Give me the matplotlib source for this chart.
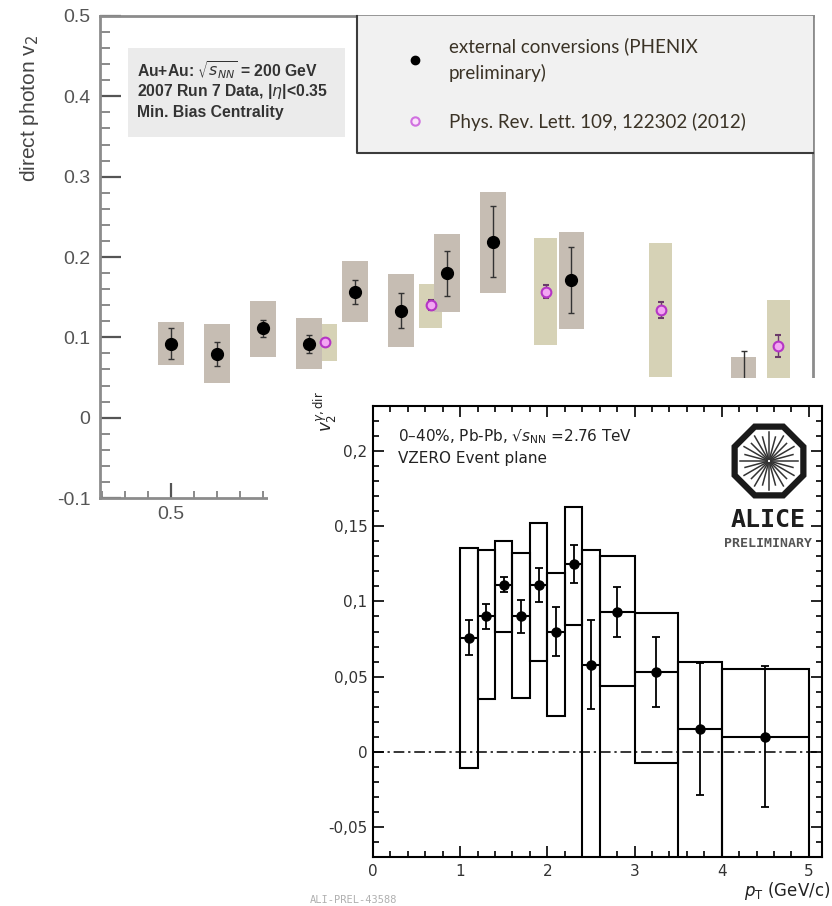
import numpy as np
import matplotlib
matplotlib.use("Agg")
import matplotlib.pyplot as plt
from matplotlib.patches import Rectangle, RegularPolygon
from matplotlib.lines import Line2D
from matplotlib.ticker import MultipleLocator, FuncFormatter

plt.rcParams['mathtext.fontset'] = 'dejavusans'

# ---------------- PHENIX (Au+Au 200 GeV) data ----------------
phx_pt = [0.5, 0.7, 0.9, 1.1, 1.3, 1.5, 1.7, 1.9, 2.24, 2.99]
phx_v2 = [0.092, 0.079, 0.111, 0.092, 0.156, 0.133, 0.180, 0.219, 0.171, 0.035]
phx_stat = [0.019, 0.015, 0.011, 0.011, 0.015, 0.022, 0.028, 0.044, 0.041, 0.048]
phx_sys_hi = [0.119, 0.116, 0.145, 0.124, 0.195, 0.179, 0.229, 0.281, 0.231, 0.075]
phx_sys_lo = [0.066, 0.043, 0.076, 0.061, 0.119, 0.088, 0.131, 0.155, 0.110, -0.005]

prl_pt = [1.17, 1.63, 2.13, 2.63, 3.14]
prl_v2 = [0.094, 0.140, 0.157, 0.134, 0.089]
prl_stat = [0.004, 0.006, 0.008, 0.010, 0.014]
prl_sys_hi = [0.116, 0.167, 0.224, 0.217, 0.147]
prl_sys_lo = [0.070, 0.112, 0.090, 0.051, 0.030]

# ---------------- ALICE (Pb-Pb 2.76 TeV) data ----------------
al_bin_lo = [1.0, 1.2, 1.4, 1.6, 1.8, 2.0, 2.2, 2.4, 2.6, 3.0, 3.5, 4.0]
al_bin_hi = [1.2, 1.4, 1.6, 1.8, 2.0, 2.2, 2.4, 2.6, 3.0, 3.5, 4.0, 5.0]
al_pt = [1.1, 1.3, 1.5, 1.7, 1.9, 2.1, 2.3, 2.5, 2.8, 3.25, 3.75, 4.5]
al_v2 = [0.076, 0.090, 0.111, 0.090, 0.111, 0.080, 0.125, 0.058, 0.093, 0.053, 0.015, 0.010]
al_stat = [0.0115, 0.0085, 0.005, 0.011, 0.0115, 0.0165, 0.0125, 0.0295, 0.0165, 0.0235, 0.044, 0.047]
al_sys_hi = [0.1355, 0.134, 0.140, 0.132, 0.152, 0.119, 0.163, 0.134, 0.130, 0.092, 0.060, 0.055]
al_sys_lo = [-0.0105, 0.035, 0.0795, 0.036, 0.0605, 0.024, 0.0845, -0.09, 0.0435, -0.0075, -0.09, -0.09]

W, H = 832, 906
fig = plt.figure(figsize=(W / 100, H / 100), dpi=100)


def rect(l, t, r, b):
    return [l / W, 1 - b / H, (r - l) / W, (b - t) / H]


def fx(px):
    return px / W


def fy(py):
    return 1 - py / H


# ================= PHENIX panel =================
ax1 = fig.add_axes(rect(100, 16, 813, 498))
ax1.set_xlim(0.191, 3.291)
ax1.set_ylim(-0.1, 0.5)
for s in ax1.spines.values():
    s.set_color('#8c8c8c')
    s.set_linewidth(2)
ax1.xaxis.set_major_locator(MultipleLocator(0.5))
ax1.xaxis.set_minor_locator(MultipleLocator(0.1))
ax1.yaxis.set_major_locator(MultipleLocator(0.1))
ax1.yaxis.set_minor_locator(MultipleLocator(0.02))
fmt_g = FuncFormatter(lambda v, p: '0' if abs(v) < 1e-9 else f'{v:g}')
# only the part of the PHENIX x axis left of the overlaid ALICE panel is visible
ax1.xaxis.set_major_formatter(FuncFormatter(lambda v, p: f'{v:g}' if v < 0.9 else ''))
ax1.yaxis.set_major_formatter(fmt_g)
ax1.tick_params(axis='y', which='major', direction='in', length=15, width=1.6,
                color='#555555', labelsize=14, labelcolor='#555555', pad=7)
ax1.tick_params(axis='y', which='minor', direction='in', length=7, width=1.2, color='#777777')
ax1.tick_params(axis='x', which='major', direction='in', length=11, width=1.6,
                color='#555555', labelsize=14, labelcolor='#555555', pad=6)
ax1.tick_params(axis='x', which='minor', direction='in', length=5, width=1.2, color='#777777')
for lab in ax1.get_xticklabels() + ax1.get_yticklabels():
    lab.set_family('Liberation Sans')

prl_h = np.array(prl_sys_hi) - np.array(prl_sys_lo)
phx_h = np.array(phx_sys_hi) - np.array(phx_sys_lo)
ax1.bar(prl_pt, prl_h, bottom=prl_sys_lo, width=0.10, color='#d6d2b6', zorder=2)
ax1.bar(phx_pt, phx_h, bottom=phx_sys_lo, width=0.11, color='#c6bdb3', zorder=3)
ax1.errorbar(phx_pt, phx_v2, yerr=phx_stat, fmt='o', ms=8.5, color='black',
             ecolor='#333333', elinewidth=1, capsize=2.5, zorder=5)
ax1.errorbar(prl_pt, prl_v2, yerr=prl_stat, fmt='o', ms=7, mfc='#f3a6f3', mec='#b535c5',
             mew=1.5, ecolor='#6a3a6a', elinewidth=1, capsize=2, zorder=6)

fig.text(fx(30), fy(108), r'direct photon v$_2$', rotation=90, ha='center', va='center',
         fontsize=15, color='#444444', family='Liberation Sans')


# info box (upper left)
def a1(px, py):
    return ((px - 100) / 713, (498 - py) / 482)


x0, y0 = a1(128, 137)
x1, y1 = a1(345, 48)
ax1.add_patch(Rectangle((x0, y0), x1 - x0, y1 - y0, transform=ax1.transAxes,
                        facecolor='#ebebeb', edgecolor='none', zorder=1))
info = [r'Au+Au: $\sqrt{s_{NN}}$ = 200 GeV', r'2007 Run 7 Data, |$\eta$|<0.35', 'Min. Bias Centrality']
for i, t in enumerate(info):
    ax1.text(*a1(137, 70 + 21.5 * i), t, transform=ax1.transAxes, fontsize=11.3,
             weight='bold', family='Liberation Sans', color='#333333', va='center', ha='left')

# legend box (upper right)
lx0, ly0 = a1(357, 153)
lx1, ly1 = a1(813, 16)
ax1.add_patch(Rectangle((lx0, ly0), lx1 - lx0, ly1 - ly0, transform=ax1.transAxes,
                        facecolor='#f1f1f1', edgecolor='none', zorder=7, clip_on=False))
ax1.plot([lx0, lx0, lx1], [ly1, ly0, ly0], transform=ax1.transAxes, color='#3c3c3c',
         lw=1.5, zorder=8, clip_on=False)
handles = [Line2D([], [], ls='none', marker='o', ms=6, color='black'),
           Line2D([], [], ls='none', marker='o', ms=6, mfc='#fbe3fb', mec='#d070e0', mew=1.5)]
labels = ['external conversions (PHENIX\npreliminary)', 'Phys. Rev. Lett. 109, 122302 (2012)']
leg = ax1.legend(handles, labels, loc='upper left', bbox_to_anchor=a1(406, 37),
                 bbox_transform=ax1.transAxes, frameon=False, handlelength=1.0,
                 handletextpad=1.3, labelspacing=1.65, borderaxespad=0, borderpad=0,
                 prop={'family': 'Lato', 'size': 13.5})
leg.set_zorder(9)
for t in leg.get_texts():
    t.set_color('#3b3326')
    t.set_linespacing(1.6)

# ================= white cover of ALICE picture =================
cov = fig.add_axes(rect(268, 378, 832, 906))
cov.set_facecolor('white')
cov.set_xticks([])
cov.set_yticks([])
for s in cov.spines.values():
    s.set_visible(False)

# ================= ALICE panel =================
ax2 = fig.add_axes(rect(373, 406, 822, 857))
ax2.set_facecolor('white')
ax2.set_xlim(0, 5.15)
ax2.set_ylim(-0.07, 0.23)
for s in ax2.spines.values():
    s.set_color('black')
    s.set_linewidth(1.5)
ax2.xaxis.set_major_locator(MultipleLocator(1))
ax2.xaxis.set_minor_locator(MultipleLocator(0.2))
ax2.yaxis.set_major_locator(MultipleLocator(0.05))
ax2.yaxis.set_minor_locator(MultipleLocator(0.01))


def comma_fmt(v, p):
    if abs(v) < 1e-9:
        return '0'
    s = f'{v:.2f}'.rstrip('0').rstrip('.')
    return s.replace('.', ',')


ax2.yaxis.set_major_formatter(FuncFormatter(comma_fmt))
ax2.xaxis.set_major_formatter(FuncFormatter(lambda v, p: f'{v:g}'))
ax2.tick_params(which='both', direction='in', top=True, right=True, width=1.2, color='black')
ax2.tick_params(which='major', length=8, labelsize=11, labelcolor='#333333', pad=4)
ax2.tick_params(which='minor', length=4.5)
ax2.tick_params(axis='x', which='major', pad=5)

ax2.axhline(0, color='black', lw=1.1, dashes=(7, 2.5, 1.5, 2.5), zorder=1)
al_w = np.array(al_bin_hi) - np.array(al_bin_lo)
al_h = np.array(al_sys_hi) - np.array(al_sys_lo)
ax2.bar(al_bin_lo, al_h, bottom=al_sys_lo, width=al_w, align='edge', fill=False,
        edgecolor='black', linewidth=1.5, zorder=2)
ax2.hlines(al_v2, al_bin_lo, al_bin_hi, color='black', lw=1.5, zorder=3)
ax2.errorbar(al_pt, al_v2, yerr=al_stat, fmt='o', ms=6.5, color='black',
             elinewidth=1.3, capsize=3, capthick=1.3, zorder=4)

fig.text(fx(398), fy(437), r'0–40%, Pb-Pb, √$s_{\mathrm{NN}}$ =2.76 TeV', fontsize=11,
         color='#222222', va='center', ha='left')
fig.text(fx(398), fy(458), 'VZERO Event plane', fontsize=11, color='#222222', va='center', ha='left')
fig.text(fx(326), fy(412), r'$v_2^{\gamma,\mathrm{dir}}$', rotation=90, fontsize=12,
         ha='center', va='center', color='#222222')
fig.text(fx(830), fy(891), r'$p_{\mathrm{T}}$ (GeV/c)', fontsize=12, ha='right', va='center',
         color='#222222')
fig.text(fx(310), fy(900), 'ALI-PREL-43588', fontsize=7.5, family='DejaVu Sans Mono',
         color='#b0b0b0', ha='left', va='center')

# ALICE logo
lg = fig.add_axes(rect(729, 421, 809, 501))
lg.set_xlim(-1, 1)
lg.set_ylim(-1, 1)
lg.set_aspect('equal')
lg.axis('off')
lg.add_patch(RegularPolygon((0, 0), 8, radius=0.93, orientation=np.pi / 8,
                            fill=False, edgecolor='#1a1a1a', lw=4.5, clip_on=False))
ang = np.arange(24) * np.pi / 12
lens = np.where(np.arange(24) % 2 == 0, 0.72, 0.62)
for a, L in zip(ang, lens):
    lg.plot([0.05 * np.cos(a), L * np.cos(a)], [0.05 * np.sin(a), L * np.sin(a)],
            color='#333333', lw=1.1)
fig.text(fx(768), fy(527), 'ALICE', fontsize=18, weight='bold', family='DejaVu Sans Mono',
         ha='center', va='baseline', color='#1e1e1e')
fig.text(fx(768), fy(547), 'PRELIMINARY', fontsize=9.5, weight='bold', family='DejaVu Sans Mono',
         ha='center', va='baseline', color='#555555')

fig.savefig('out.png', dpi=100)
